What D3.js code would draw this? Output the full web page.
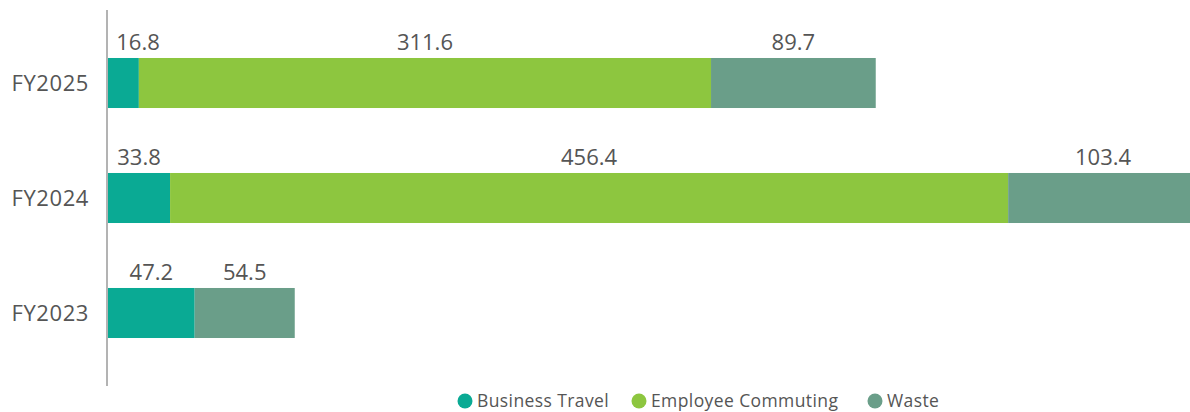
<!DOCTYPE html>
<html>
<head>
<meta charset="utf-8">
<script src="https://cdn.jsdelivr.net/npm/d3@7"></script>
<style>
  body { margin: 0; background: #fff; }
  svg text { font-family: "Open Sans", "Lato", sans-serif; fill: #555; }
</style>
</head>
<body>
<div id="chart"></div>
<script>
var years = ["FY2025", "FY2024", "FY2023"];
var seriesNames = ["Business Travel", "Employee Commuting", "Waste"];
var businessTravel = [16.8, 33.8, 47.2];
var employeeCommuting = [311.6, 456.4, 0];
var waste = [89.7, 103.4, 54.5];
var colors = ["#0aaa94", "#8dc63f", "#6a9e89"];

var svgWidth = 1190;
var svgHeight = 412;

var svg = d3.select("#chart")
  .append("svg")
  .attr("width", svgWidth)
  .attr("height", svgHeight);

var rows = years.map(function (y, i) {
  return { year: y, v: [businessTravel[i], employeeCommuting[i], waste[i]] };
});

var maxTotal = d3.max(rows, d => d3.sum(d.v));

var x = d3.scaleLinear()
  .domain([0, maxTotal])
  .range([108, 1198]);

var y = d3.scaleBand()
  .domain(years)
  .range([0, 396])
  .paddingInner(0.565)
  .paddingOuter(0.5043);

// category labels
svg.selectAll(".cat")
  .data(years)
  .enter()
  .append("text")
  .attr("class", "cat")
  .attr("x", 89)
  .attr("y", d => y(d) + y.bandwidth() / 2)
  .attr("dy", "0.35em")
  .attr("text-anchor", "end")
  .style("font-size", "22px")
  .style("letter-spacing", "0.6px")
  .text(d => d);

rows.forEach(function (row) {
  var x0 = 0;
  row.v.forEach(function (val, k) {
    if (val > 0) {
      var start = x0;
      svg.append("rect")
        .attr("x", x(start))
        .attr("y", y(row.year))
        .attr("width", x(start + val) - x(start))
        .attr("height", y.bandwidth())
        .attr("fill", colors[k]);

      var cx = (x(start) + x(start + val)) / 2;
      cx = Math.max(cx, x(start) + 30);
      svg.append("text")
        .attr("x", cx)
        .attr("y", y(row.year) - 8)
        .attr("text-anchor", "middle")
        .style("font-size", "22px")
        .text(val.toFixed(1));
    }
    x0 += val;
  });
});

// axis line
svg.append("line")
  .attr("x1", 107)
  .attr("x2", 107)
  .attr("y1", 10)
  .attr("y2", 386)
  .attr("stroke", "#b3b3b3")
  .attr("stroke-width", 2);

// legend
var legendX = [465, 639, 875];
var legend = svg.selectAll(".legend")
  .data(seriesNames)
  .enter()
  .append("g")
  .attr("class", "legend")
  .attr("transform", (d, i) => `translate(${legendX[i]}, 401)`);

legend.append("circle")
  .attr("r", 7.5)
  .attr("fill", (d, i) => colors[i]);

legend.append("text")
  .attr("x", 12)
  .attr("dy", "0.35em")
  .style("font-size", "17.5px")
  .style("letter-spacing", "0.4px")
  .text(d => d);
</script>
</body>
</html>
